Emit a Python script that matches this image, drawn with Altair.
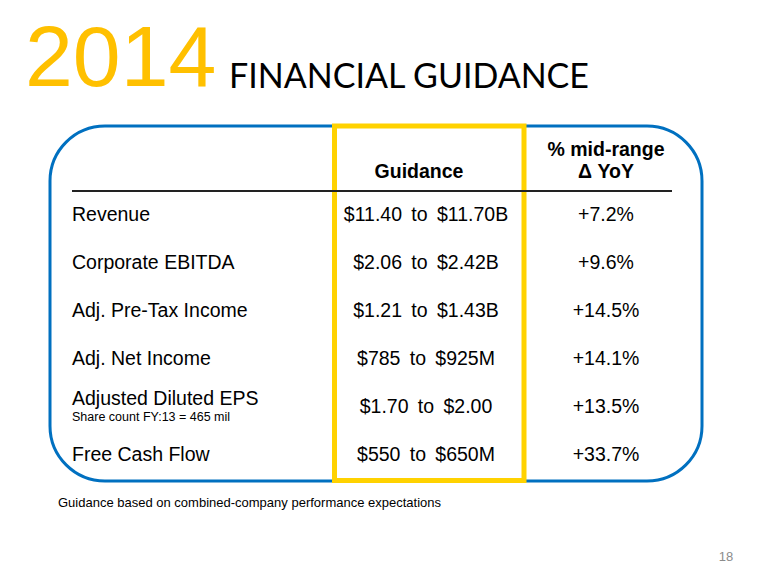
import altair as alt
import pandas as pd

# ---- data ----
metrics = ["Revenue", "Corporate EBITDA", "Adj. Pre-Tax Income", "Adj. Net Income",
           "Adjusted Diluted EPS", "Free Cash Flow"]
guid_low = ["$11.40", "$2.06", "$1.21", "$785", "$1.70", "$550"]
guid_high = ["$11.70B", "$2.42B", "$1.43B", "$925M", "$2.00", "$650M"]
yoy = ["+7.2%", "+9.6%", "+14.5%", "+14.1%", "+13.5%", "+33.7%"]
eps_note = "Share count FY:13 = 465 mil"
title_year = "2014"
title_text = "FINANCIAL GUIDANCE"
col_guidance = "Guidance"
col_yoy = ["% mid-range", "Δ YoY"]
footnote = "Guidance based on combined-company performance expectations"
page_no = "18"

SEP = "\u2009 to \u2009"
df = pd.DataFrame({
    "row": list(range(len(metrics))),
    "metric": metrics,
    "guidance": [f"{a}{SEP}{b}" for a, b in zip(guid_low, guid_high)],
    "yoy": yoy,
})

FONT = "Liberation Sans"
W, H = 764, 569

yscale = alt.Scale(domain=[0, 5], range=[207, 447])
one = pd.DataFrame({"a": [0]})

base = alt.Chart(df)
Y = alt.Y("row:Q", scale=yscale, axis=None)

labels = base.transform_filter("datum.row != 4").mark_text(
    align="left", baseline="middle", font=FONT, fontSize=19.5, color="#000"
).encode(x=alt.value(64), y=Y, text="metric:N")

eps_label = base.transform_filter("datum.row == 4").mark_text(
    align="left", baseline="middle", font=FONT, fontSize=19.5, color="#000", dy=-8
).encode(x=alt.value(64), y=Y, text="metric:N")

eps_sub = base.transform_filter("datum.row == 4").mark_text(
    align="left", baseline="middle", font=FONT, fontSize=12.5, color="#000", dy=10
).encode(x=alt.value(64), y=Y, text=alt.value(eps_note))

guid = base.mark_text(
    align="center", baseline="middle", font=FONT, fontSize=19.5, color="#000"
).encode(x=alt.value(418), y=Y, text="guidance:N")

yoyt = base.mark_text(
    align="center", baseline="middle", font=FONT, fontSize=19.5, color="#000"
).encode(x=alt.value(598), y=Y, text="yoy:N")

blue_box = alt.Chart(one).mark_rect(
    fillOpacity=0, stroke="#0070C0", strokeWidth=3, cornerRadius=55
).encode(x=alt.value(42), x2=alt.value(694), y=alt.value(118), y2=alt.value(473))

yellow_box = alt.Chart(one).mark_rect(
    fillOpacity=0, stroke="#FFD200", strokeWidth=5
).encode(x=alt.value(326.5), x2=alt.value(516), y=alt.value(118), y2=alt.value(472.5))

rule = alt.Chart(one).mark_rule(color="#222", strokeWidth=2).encode(
    x=alt.value(64), x2=alt.value(664), y=alt.value(183))

hdr_g = alt.Chart(one).mark_text(
    align="center", baseline="middle", font=FONT, fontSize=19.5, fontWeight="bold", color="#000"
).encode(x=alt.value(411), y=alt.value(164), text=alt.value(col_guidance))

hdr_y1 = alt.Chart(one).mark_text(
    align="center", baseline="middle", font=FONT, fontSize=19.5, fontWeight="bold", color="#000"
).encode(x=alt.value(598), y=alt.value(142), text=alt.value(col_yoy[0]))

hdr_y2 = alt.Chart(one).mark_text(
    align="center", baseline="middle", font=FONT, fontSize=19.5, fontWeight="bold", color="#000"
).encode(x=alt.value(598), y=alt.value(164), text=alt.value(col_yoy[1]))

t_year = alt.Chart(one).mark_text(
    align="left", baseline="alphabetic", font=FONT, fontSize=86, color="#FFC000"
).encode(x=alt.value(17), y=alt.value(78), text=alt.value(title_year))

t_text = alt.Chart(one).mark_text(
    align="left", baseline="alphabetic", font="Lato", fontSize=34, color="#000"
).encode(x=alt.value(221), y=alt.value(79.5), text=alt.value(title_text))

foot = alt.Chart(one).mark_text(
    align="left", baseline="middle", font=FONT, fontSize=13, color="#000"
).encode(x=alt.value(50), y=alt.value(495), text=alt.value(footnote))

page = alt.Chart(one).mark_text(
    align="center", baseline="middle", font=FONT, fontSize=13, color="#8c8c8c"
).encode(x=alt.value(718), y=alt.value(549), text=alt.value(page_no))

chart = alt.layer(
    blue_box, yellow_box, rule, hdr_g, hdr_y1, hdr_y2,
    labels, eps_label, eps_sub, guid, yoyt,
    t_year, t_text, foot, page
).properties(
    width=W, height=H, autosize=alt.AutoSizeParams(type="none"), padding=0,
    background="white"
).configure_view(stroke=None, strokeWidth=0)

chart.save("out.html", embed_options={"renderer": "svg", "actions": False})
